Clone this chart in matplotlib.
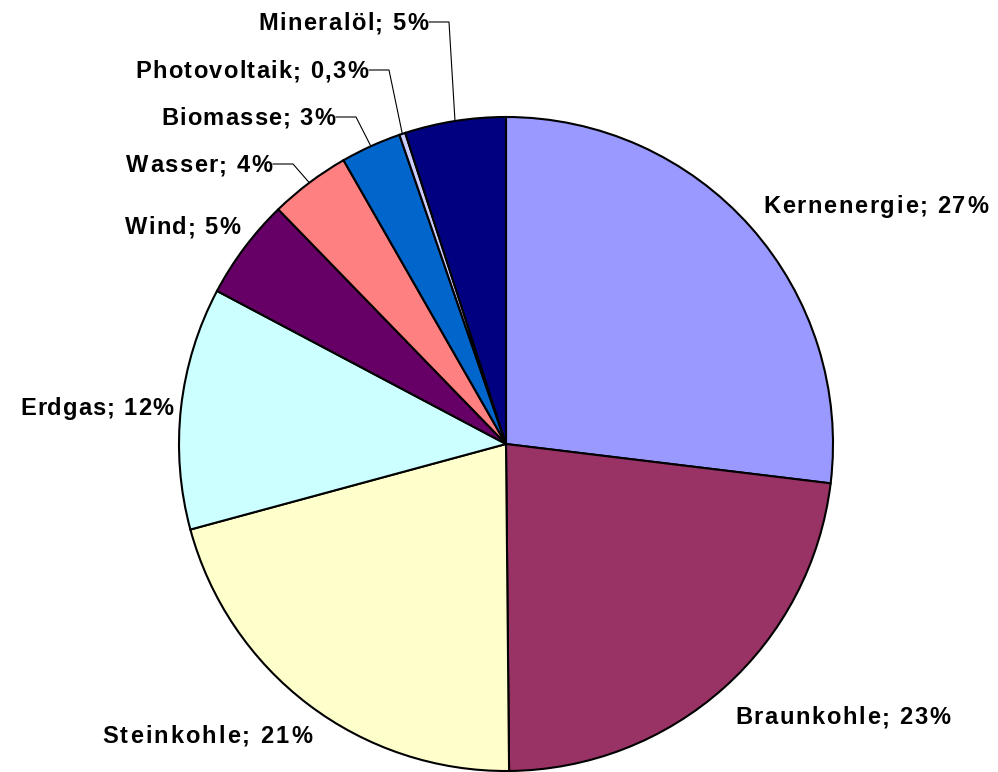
import matplotlib.pyplot as plt
import numpy as np
from matplotlib import font_manager, ft2font
from matplotlib.font_manager import FontProperties

labels = ["Kernenergie", "Braunkohle", "Steinkohle", "Erdgas", "Wind",
          "Wasser", "Biomasse", "Photovoltaik", "Mineralöl"]
shares = [27, 23, 21, 12, 5, 4, 3, 0.3, 5]
share_text = ["27%", "23%", "21%", "12%", "5%", "4%", "3%", "0,3%", "5%"]
colors = ["#9999FF", "#993366", "#FFFFCC", "#CCFFFF", "#660066",
          "#FF8080", "#0066CC", "#CCCCFF", "#000080"]

# label box in pixels: (left x, right x, baseline y from top, leader line?)
label_pos = {
    "Kernenergie": (763, 988, 213, False),
    "Braunkohle": (735, 950, 724, False),
    "Steinkohle": (102, 312, 743, False),
    "Erdgas": (20, 173, 415, False),
    "Wind": (125, 240, 234, False),
    "Wasser": (126, 272, 172, True),
    "Biomasse": (161, 335, 125, True),
    "Photovoltaik": (135, 368, 78, True),
    "Mineralöl": (258, 428, 30, True),
}

FONT_PT = 17

plt.rcParams['font.family'] = ['Liberation Sans', 'DejaVu Sans']

W, H = 998, 772
fig = plt.figure(figsize=(W / 100, H / 100), dpi=100)
ax = fig.add_axes([0, 0, 1, 1])

fprops = FontProperties(family='Liberation Sans', weight='bold')
ft = ft2font.FT2Font(font_manager.findfont(fprops))
ft.set_size(FONT_PT, 100)


def advances(s):
    return [ft.load_char(ord(c)).linearHoriAdvance / 65536 for c in s]


def spaced_text(x0, x1, y, s):
    # spread letters so the label fills x0..x1, like the Excel rendering
    adv = advances(s)
    gap = (x1 - x0 - sum(adv)) / (len(s) - 1)
    x = x0
    for c, a in zip(s, adv):
        ax.text(x, y, c, ha='left', va='baseline', fontsize=FONT_PT,
                fontweight='bold', color='black')
        x += a + gap


cx, cy, r = 506, H - 444, 327
wedges, _ = ax.pie(shares, colors=colors, startangle=90, counterclock=False,
                   center=(cx, cy), radius=r, frame=True,
                   wedgeprops=dict(edgecolor='black', linewidth=1.5))
ax.set_xlim(0, W)
ax.set_ylim(0, H)
ax.axis('off')

for w, name, pct in zip(wedges, labels, share_text):
    x0, x1, y, leader = label_pos[name]
    by = H - y
    spaced_text(x0, x1, by, f"{name}; {pct}")
    if leader:
        mid = np.deg2rad((w.theta1 + w.theta2) / 2)
        ex, ey = cx + r * np.cos(mid), cy + r * np.sin(mid)
        ly = by + 8
        ax.plot([x1 + 1, x1 + 21, ex], [ly, ly, ey], color='black', lw=0.8)

fig.savefig("out.png", dpi=100)
